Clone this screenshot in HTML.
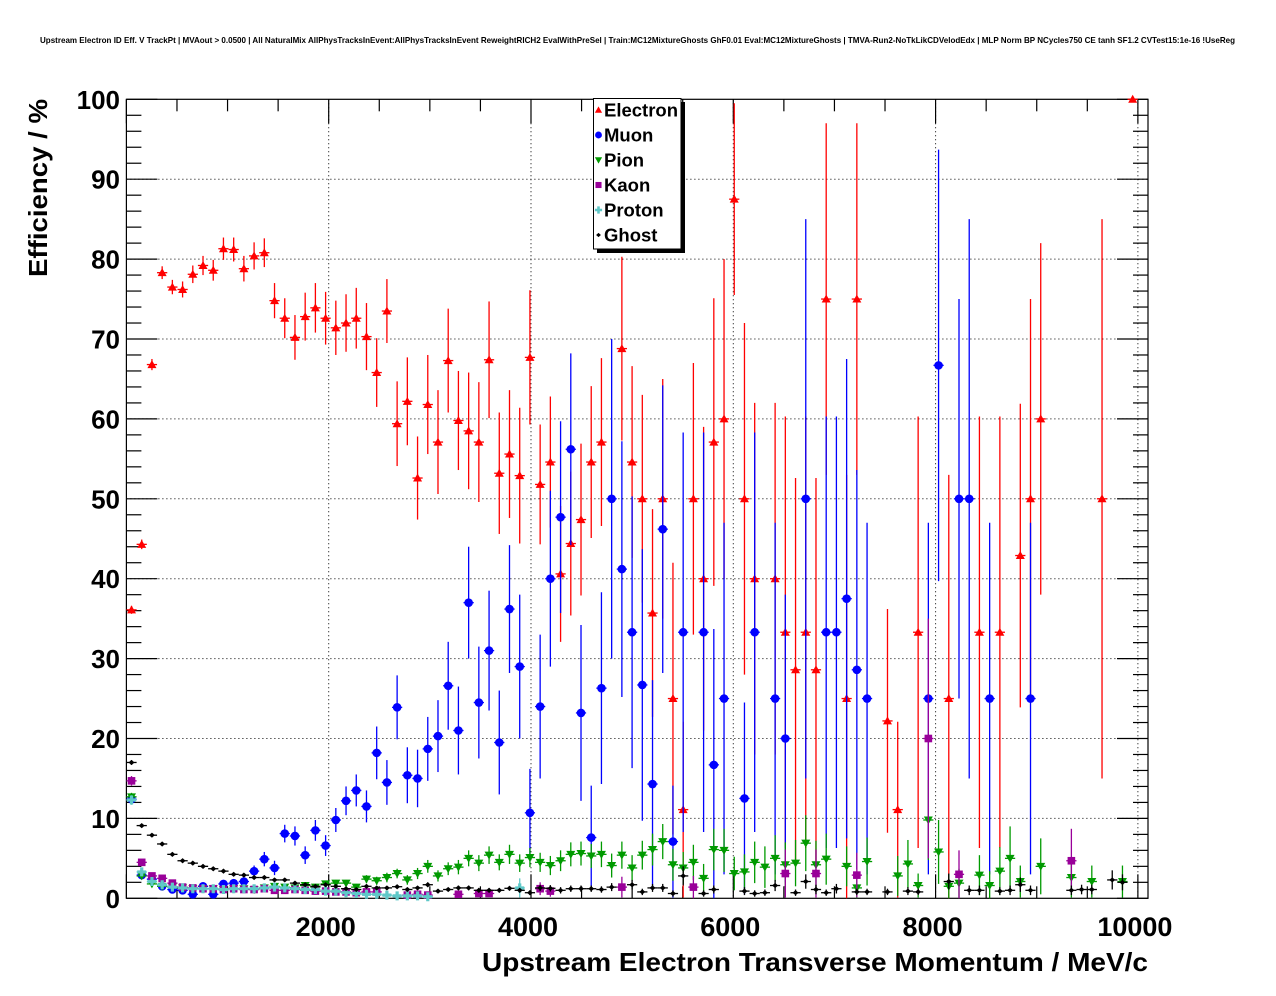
<!DOCTYPE html>
<html><head><meta charset="utf-8"><style>
html,body{margin:0;padding:0;background:#fff;}
svg{display:block;font-family:"Liberation Sans",Arial,sans-serif;}
</style></head><body>
<svg id="chart" width="1276" height="996" viewBox="0 0 1276 996" xmlns="http://www.w3.org/2000/svg">
<rect x="0" y="0" width="1276" height="996" fill="#fff"/>
<text x="40" y="43" font-size="8.5" font-weight="bold" textLength="1195" lengthAdjust="spacingAndGlyphs">Upstream Electron ID Eff. V TrackPt | MVAout &gt; 0.0500 | All NaturalMix AllPhysTracksInEvent:AllPhysTracksInEvent ReweightRICH2 EvalWithPreSel | Train:MC12MixtureGhosts GhF0.01 Eval:MC12MixtureGhosts | TMVA-Run2-NoTkLikCDVelodEdx | MLP Norm BP NCycles750 CE tanh SF1.2 CVTest15:1e-16 !UseReg</text>
<g id="grid"></g>
<g id="axes"></g>
<g id="series"></g>
<text transform="translate(47,99) rotate(-90)" text-anchor="end" font-size="26" font-weight="bold" textLength="178" lengthAdjust="spacingAndGlyphs">Efficiency / %</text>
<text x="1148" y="971" text-anchor="end" font-size="26" font-weight="bold" textLength="666" lengthAdjust="spacingAndGlyphs">Upstream Electron Transverse Momentum / MeV/c</text>
<g id="legend"></g>
</svg>
<script>
// ---- data (bin index: bin k centred at 50.5 + 101*k MeV) ----
const electronBin = [0,1,2,3,4,5,6,7,8,9,10,11,12,13,14,15,16,17,18,19,20,21,22,23,24,25,26,27,28,29,30,31,32,33,34,35,36,37,38,39,40,41,42,43,44,45,46,48,49,50,51,52,53,54,55,56,57,58,59,60,61,63,64,65,66,67,68,70,71,74,75,77,80,83,85,87,88,89,95,98];
const electronVal = [36.1,44.3,66.8,78.3,76.5,76.2,78.1,79.2,78.6,81.3,81.2,78.8,80.4,80.8,74.8,72.6,70.2,72.8,73.9,72.6,71.4,72.0,72.6,70.3,65.8,73.5,59.4,62.2,52.6,61.8,57.1,67.3,59.8,58.5,57.1,67.4,53.2,55.6,52.9,67.7,51.8,54.6,40.6,44.4,47.4,54.6,57.1,68.8,54.6,50,35.7,50,25,11.1,50,40,57.1,60,87.5,50,40,40,33.3,28.6,33.3,28.6,75,25,75,22.2,11.1,33.3,25,33.3,33.3,42.9,50,60,50,100];
const electronErr = [0.5,0.6,0.7,0.8,0.9,1.0,1.1,1.2,1.3,1.4,1.5,1.6,1.7,1.8,2.2,2.5,2.8,3.0,3.1,3.3,3.4,3.6,3.8,4.2,4.3,4.0,5.3,5.5,5.2,6.2,6.5,6.5,6.2,7.3,7.5,7.3,7.6,8.0,8.5,8.4,7.5,8.2,8.5,9.0,9.5,9.5,10.5,11.5,12,13,13,15,17,11,17,19,18,20,12,22,22,22,27,24,27,24,22,28,22,14,11,27,28,27,27,19,25,22,35,0];

const muonBin = [0,1,2,3,4,5,6,7,8,9,10,11,12,13,14,15,16,17,18,19,20,21,22,23,24,25,26,27,28,29,30,31,32,33,34,35,36,37,38,39,40,41,42,43,44,45,46,47,48,49,50,51,52,53,54,56,57,58,60,61,63,64,66,68,69,70,71,72,78,79,81,82,84,88];
const muonVal = [12.4,2.9,2.4,1.5,1.1,1.0,0.5,1.5,0.5,1.8,1.9,2.1,3.4,4.9,3.8,8.1,7.8,5.4,8.5,6.6,9.8,12.2,13.5,11.5,18.2,14.5,23.9,15.4,15.0,18.7,20.3,26.6,21.0,37.0,24.5,31.0,19.5,36.2,29.0,10.7,24.0,40.0,47.7,56.2,23.2,7.6,26.3,50.0,41.2,33.3,26.7,14.3,46.2,7.1,33.3,33.3,16.7,25,12.5,33.3,25,20,50,33.3,33.3,37.5,28.6,25,25,66.7,50,50,25,25];
const muonErr = [0.6,0.4,0.4,0.3,0.3,0.3,0.3,0.4,0.3,0.4,0.5,0.5,0.7,0.9,0.9,1.1,1.2,1.1,1.3,1.3,1.5,1.8,2.0,2.0,3.3,2.8,4.0,3.5,3.6,4.0,4.5,5.5,5.5,7.0,7.0,7.5,6.5,8.0,9.0,5.5,9.0,11,12,12,11,6.5,12,20,16,17,17,13,18,7,25,25,17,22,12,25,22,18,35,27,27,30,25,22,22,27,25,35,22,22];

const pionBin = [0,1,2,3,4,5,6,7,8,9,10,11,12,13,14,15,16,17,18,19,20,21,22,23,24,25,26,27,28,29,30,31,32,33,34,35,36,37,38,39,40,41,42,43,44,45,46,47,48,49,50,51,52,53,54,55,56,57,58,59,60,61,62,63,64,65,66,67,68,70,71,72,75,76,77,78,79,80,81,83,84,85,86,87,89,92,94,97];
const pionVal = [12.7,2.8,1.8,1.5,1.4,1.3,1.2,1.2,1.2,1.1,1.2,1.2,1.1,1.3,1.5,1.4,1.3,1.6,1.4,1.8,1.9,1.9,1.4,2.4,2.2,2.6,3.1,2.3,3.1,4.0,2.8,3.7,3.9,5.0,4.4,5.4,4.5,5.5,4.4,5.1,4.5,4.1,4.7,5.5,5.6,5.3,5.5,4.1,5.4,3.8,5.4,6.1,7.1,4.2,3.8,4.5,2.5,6.1,6.0,3.1,3.3,4.5,3.9,5.0,4.2,4.4,6.9,4.2,4.9,4.0,1.3,4.6,2.8,4.3,1.6,9.8,5.8,1.5,1.9,2.9,1.6,3.4,5.0,2.1,4.0,2.6,2.1,2.1];
const pionErr = [0.5,0.3,0.2,0.2,0.2,0.2,0.2,0.2,0.2,0.2,0.2,0.2,0.2,0.2,0.3,0.3,0.3,0.3,0.3,0.4,0.4,0.4,0.4,0.5,0.5,0.6,0.6,0.6,0.7,0.8,0.7,0.8,0.9,1.0,1.0,1.1,1.0,1.2,1.1,1.2,1.2,1.2,1.3,1.5,1.5,1.5,1.6,1.5,1.7,1.6,1.8,2.0,2.2,2.0,2.0,2.2,1.8,2.6,2.7,2.1,2.2,2.6,2.6,2.9,2.8,2.9,3.5,3.0,3.2,2.5,1.5,3,2.5,3,1.5,5,4,1.5,1.8,2.5,1.8,3,4,2,3.5,2.5,2,2];

const kaonBin = [0,1,2,3,4,5,6,7,8,9,10,11,12,13,14,15,16,17,18,19,20,21,22,23,24,27,28,29,32,34,35,40,41,48,55,64,67,71,78,81,92];
const kaonVal = [14.7,4.5,2.8,2.5,1.9,1.4,1.3,1.2,1.2,1.1,1.2,1.1,1.1,1.2,1.0,1.0,1.1,1.0,0.9,0.9,0.8,0.8,0.7,0.8,0.8,0.4,0.5,0.4,0.5,0.6,0.6,1.2,0.9,1.4,1.4,3.1,3.1,2.9,20,3.0,4.7];
const kaonErr = [0.6,0.4,0.3,0.3,0.3,0.3,0.3,0.3,0.3,0.3,0.3,0.3,0.3,0.3,0.3,0.3,0.3,0.3,0.3,0.3,0.3,0.3,0.3,0.3,0.3,0.3,0.3,0.3,0.4,0.4,0.4,0.8,0.7,1.3,1.4,3,3,2.8,15,3,4];

const protonBin = [0,1,2,3,4,5,6,7,8,9,10,11,12,13,14,15,16,17,18,19,20,21,22,23,24,25,26,27,28,29,38];
const protonVal = [12.3,3.3,2.1,1.7,1.4,1.3,1.2,1.2,1.2,1.1,1.2,1.2,1.2,1.3,1.4,1.3,1.2,1.1,1.1,0.9,0.9,0.7,0.6,0.5,0.5,0.4,0.3,0.3,0.3,0.2,1.3];
const protonErr = [0.6,0.4,0.3,0.3,0.3,0.3,0.3,0.3,0.3,0.3,0.3,0.3,0.3,0.3,0.3,0.3,0.3,0.3,0.3,0.3,0.3,0.3,0.3,0.3,0.3,0.3,0.2,0.2,0.2,0.2,1.2];

const ghostBin = [0,1,2,3,4,5,6,7,8,9,10,11,12,13,14,15,16,17,18,19,20,21,22,23,24,25,26,27,28,29,30,31,32,33,34,35,36,37,38,39,40,41,42,43,44,45,46,47,49,50,51,52,53,54,56,57,60,61,62,63,65,66,67,68,69,71,72,74,76,77,80,82,83,85,86,87,88,92,93,94,96,97];
const ghostVal = [17.0,9.1,7.9,6.8,5.5,4.7,4.4,4.0,3.7,3.4,3.0,2.9,2.6,2.6,2.3,2.3,1.9,1.7,1.5,1.7,1.5,1.2,1.1,1.5,1.3,1.3,1.45,1.1,1.3,1.7,0.9,1.1,1.3,1.3,1.0,1.0,1.0,1.25,1.0,0.7,1.3,1.25,1.0,1.2,1.2,1.2,1.1,1.4,1.7,0.8,1.3,1.3,0.6,2.8,0.6,1.1,0.9,0.6,0.7,1.6,0.7,2.1,1.1,0.7,1.2,0.8,0.8,0.8,0.9,0.8,2.1,1.0,1.0,0.9,1.0,1.7,1.0,1.0,1.1,1.1,2.3,2.0];
const ghostErr = [0.3,0.2,0.2,0.2,0.2,0.2,0.2,0.2,0.2,0.2,0.2,0.2,0.2,0.2,0.2,0.2,0.2,0.2,0.2,0.2,0.2,0.2,0.2,0.2,0.2,0.2,0.2,0.2,0.2,0.3,0.2,0.2,0.3,0.3,0.3,0.3,0.3,0.3,0.3,0.3,0.4,0.4,0.4,0.4,0.4,0.4,0.4,0.5,0.6,0.4,0.5,0.5,0.4,1.2,0.4,0.5,0.5,0.4,0.4,0.7,0.4,0.9,0.6,0.4,0.6,0.4,0.4,0.4,0.5,0.4,1.0,0.6,0.6,0.5,0.6,0.9,0.6,0.6,0.6,0.6,1.2,1.0];

const xTickValues = [2000,4000,6000,8000,10000];
const xTickLabels = ["2000","4000","6000","8000","10000"];
const yTickValues = [0,10,20,30,40,50,60,70,80,90,100];
const yTickLabels = ["0","10","20","30","40","50","60","70","80","90","100"];
const legendNames = ["Electron","Muon","Pion","Kaon","Proton","Ghost"];

// ---- axes ----
const X0 = 126.4, X1 = 1148, Y0 = 898.3, Y1 = 99.3;
const XMIN = 0, XMAX = 10100, YMIN = 0, YMAX = 100;
const BINW = 101;
function xs(v){ return X0 + (v - XMIN) / (XMAX - XMIN) * (X1 - X0); }
function ys(v){ return Y0 - (v - YMIN) / (YMAX - YMIN) * (Y0 - Y1); }
function binCenter(k){ return XMIN + BINW * (k + 0.5); }

const NS = "http://www.w3.org/2000/svg";
function mk(tag, attrs, parent){
  const el = document.createElementNS(NS, tag);
  for (const k in attrs) el.setAttribute(k, attrs[k]);
  parent.appendChild(el);
  return el;
}
const grid = document.getElementById('grid');
const axes = document.getElementById('axes');
const series = document.getElementById('series');
const legend = document.getElementById('legend');

xTickValues.forEach(v => {
  const g = mk('line', {x1: xs(v), x2: xs(v), y1: Y1, y2: Y0, stroke: '#000', 'stroke-width': 1, 'stroke-dasharray': '1 3'}, grid);
  
  
});
yTickValues.forEach(v => {
  if (v <= YMIN || v >= YMAX) return;
  const g = mk('line', {x1: X0, x2: X1, y1: ys(v), y2: ys(v), stroke: '#000', 'stroke-width': 1, 'stroke-dasharray': '1 3'}, grid);
  
  
});

const frame = mk('rect', {x: X0, y: Y1, width: X1 - X0, height: Y0 - Y1, fill: 'none', stroke: '#000', 'stroke-width': 1.2}, axes);



for (let v = 0; v <= XMAX; v += 500) {
  const major = v % 2000 === 0;
  const len = major ? 24 : 12;
  const t1 = mk('line', {x1: xs(v), x2: xs(v), y1: Y0, y2: Y0 - len, stroke: '#000', 'stroke-width': 1.2}, axes);
  
  
  const t2 = mk('line', {x1: xs(v), x2: xs(v), y1: Y1, y2: Y1 + len, stroke: '#000', 'stroke-width': 1.2}, axes);
  
  
}
for (let v = 0; v <= YMAX; v += 2) {
  const major = v % 10 === 0;
  const len = major ? 31 : 15;
  const t1 = mk('line', {x1: X0, x2: X0 + len, y1: ys(v), y2: ys(v), stroke: '#000', 'stroke-width': 1.2}, axes);
  
  
  const t2 = mk('line', {x1: X1, x2: X1 - len, y1: ys(v), y2: ys(v), stroke: '#000', 'stroke-width': 1.2}, axes);
  
  
}
xTickValues.forEach((v, i) => {
  const t = mk('text', {x: xs(v) - 3, y: 936, 'text-anchor': 'middle', 'font-size': 27, 'font-weight': 'bold'}, axes);
  t.textContent = xTickLabels[i];
  
  
});
yTickValues.forEach((v, i) => {
  const t = mk('text', {x: 120, y: ys(v) + 9.5, 'text-anchor': 'end', 'font-size': 26, 'font-weight': 'bold'}, axes);
  t.textContent = yTickLabels[i];
  
  
});

function marker(shape, color, cx, cy, parent, s){
  s = s || 1;
  if (shape === 'tri-up') return mk('polygon', {points: `${cx-4.5*s},${cy+3.5*s} ${cx+4.5*s},${cy+3.5*s} ${cx},${cy-4.5*s}`, fill: color}, parent);
  if (shape === 'circle') return mk('circle', {cx: cx, cy: cy, r: 4.3*s, fill: color}, parent);
  if (shape === 'tri-down') return mk('polygon', {points: `${cx-4.5*s},${cy-3.5*s} ${cx+4.5*s},${cy-3.5*s} ${cx},${cy+4.5*s}`, fill: color}, parent);
  if (shape === 'square') return mk('rect', {x: cx-3.8*s, y: cy-3.8*s, width: 7.6*s, height: 7.6*s, fill: color}, parent);
  if (shape === 'cross') return mk('path', {d: `M${cx-1.6*s},${cy-4.5*s}h${3.2*s}v${2.9*s}h${2.9*s}v${3.2*s}h${-2.9*s}v${2.9*s}h${-3.2*s}v${-2.9*s}h${-2.9*s}v${-3.2*s}h${2.9*s}z`, fill: color}, parent);
  return mk('polygon', {points: `${cx-3*s},${cy} ${cx},${cy-2.6*s} ${cx+3*s},${cy} ${cx},${cy+2.6*s}`, fill: color}, parent);
}

const seriesDefs = [
  {name: 'electron', bins: electronBin, vals: electronVal, errs: electronErr, color: '#ff0000', shape: 'tri-up'},
  {name: 'muon', bins: muonBin, vals: muonVal, errs: muonErr, color: '#0000ff', shape: 'circle'},
  {name: 'pion', bins: pionBin, vals: pionVal, errs: pionErr, color: '#009a00', shape: 'tri-down'},
  {name: 'kaon', bins: kaonBin, vals: kaonVal, errs: kaonErr, color: '#990099', shape: 'square'},
  {name: 'proton', bins: protonBin, vals: protonVal, errs: protonErr, color: '#5fc8c8', shape: 'cross'},
  {name: 'ghost', bins: ghostBin, vals: ghostVal, errs: ghostErr, color: '#000000', shape: 'diamond'}
];

seriesDefs.forEach(sd => {
  const g = mk('g', {}, series);
  
  
  sd.bins.forEach((k, i) => {
    const c = binCenter(k);
    const cx = xs(c), cy = ys(sd.vals[i]);
    const lo = Math.max(YMIN, sd.vals[i] - sd.errs[i]);
    const hi = Math.min(YMAX, sd.vals[i] + sd.errs[i]);
    const pt = mk('g', {}, g);
    
    
    mk('line', {x1: cx, x2: cx, y1: ys(lo), y2: ys(hi), stroke: sd.color, 'stroke-width': 1.3}, pt);
    mk('line', {x1: xs(c - BINW/2), x2: xs(c + BINW/2), y1: cy, y2: cy, stroke: sd.color, 'stroke-width': 1.3}, pt);
    marker(sd.shape, sd.color, cx, cy, pt);
  });
});

mk('rect', {x: 597, y: 102, width: 88, height: 151, fill: '#000'}, legend);
const lbox = mk('rect', {x: 593.5, y: 98.5, width: 87.5, height: 150.5, fill: '#fff', stroke: '#000', 'stroke-width': 1}, legend);


legendNames.forEach((n, i) => {
  const sd = seriesDefs[i];
  const cy = 110 + i * 25;
  const e = mk('g', {}, legend);
  
  
  marker(sd.shape, sd.color, 598.5, cy, e, 0.8);
  const t = mk('text', {x: 604, y: cy + 6.5, 'font-size': 18.5, 'font-weight': 'bold'}, e);
  t.textContent = n;
});
</script>
</body></html>
